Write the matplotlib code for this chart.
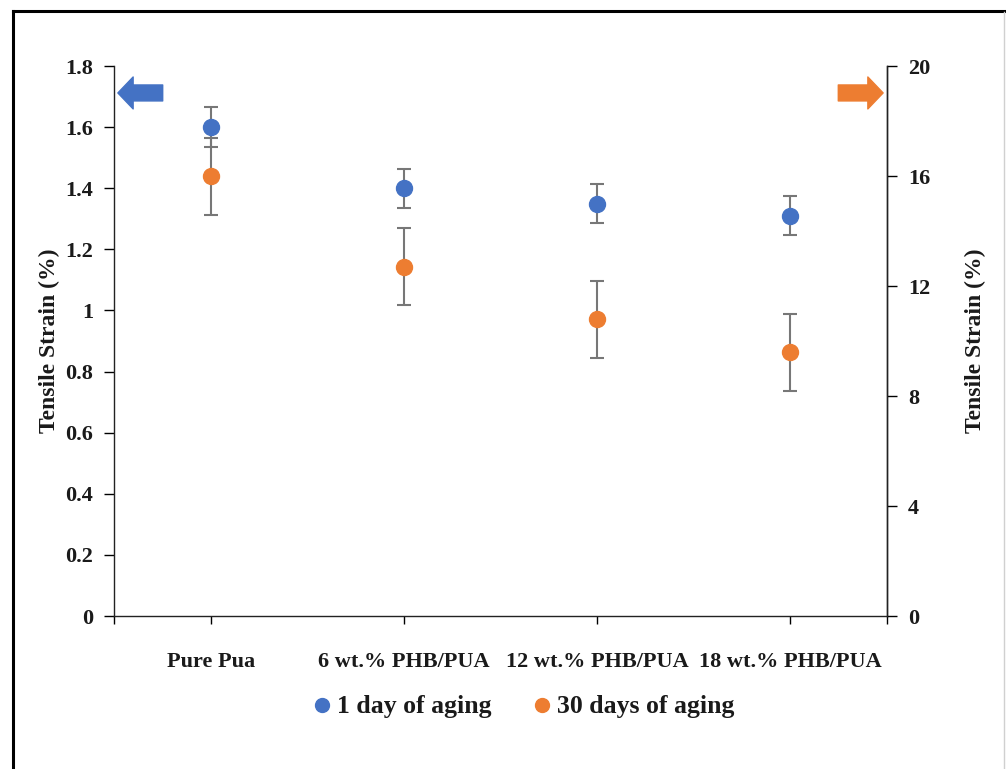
import matplotlib.pyplot as plt
from matplotlib.lines import Line2D

# --- Dados ---
categorias = ["Pure Pua", "6 wt.% PHB/PUA", "12 wt.% PHB/PUA", "18 wt.% PHB/PUA"]
strain_1dia = [1.60, 1.40, 1.35, 1.31]        # eixo esquerdo
erro_1dia = [0.065, 0.064, 0.064, 0.064]
strain_30dias = [16.0, 12.7, 10.8, 9.6]       # eixo direito
erro_30dias = [1.4, 1.4, 1.4, 1.4]

ticks_esq = [0, 0.2, 0.4, 0.6, 0.8, 1, 1.2, 1.4, 1.6, 1.8]
rotulos_esq = ["0", "0.2", "0.4", "0.6", "0.8", "1", "1.2", "1.4", "1.6", "1.8"]
ticks_dir = [0, 4, 8, 12, 16, 20]

AZUL = "#4472C4"
LARANJA = "#ED7D31"
TEXTO = "#1a1a1a"
ERRO = "#777777"

plt.rcParams['font.family'] = ['Liberation Serif', 'DejaVu Serif']
plt.rcParams['font.weight'] = 'bold'
plt.rcParams['axes.labelweight'] = 'bold'

fig = plt.figure(figsize=(10.06, 7.69), dpi=100)
W, H = 1006, 769
ax = fig.add_axes([114 / W, 1 - 616 / H, (887 - 114) / W, (616 - 66) / H])
ax2 = ax.twinx()

x = [i + 0.5 for i in range(len(categorias))]

# Série 1 (eixo esquerdo)
ax.errorbar(x, strain_1dia, yerr=erro_1dia, fmt='o', color=AZUL, ms=11.5,
            ecolor=ERRO, elinewidth=1.5, capsize=5, capthick=1.5, zorder=3)
# Série 2 (eixo direito)
ax2.errorbar(x, strain_30dias, yerr=erro_30dias, fmt='o', color=LARANJA, ms=11.5,
             ecolor=ERRO, elinewidth=1.5, capsize=5, capthick=1.5, zorder=3)

ax.set_xlim(0, 4)
ax.set_ylim(0, 1.8)
ax2.set_ylim(0, 20)

ax.set_yticks(ticks_esq)
ax.set_yticklabels(rotulos_esq)
ax2.set_yticks(ticks_dir)
ax.set_xticks(x)
ax.set_xticklabels(categorias)
ax.set_xticks([0, 4], minor=True)

for a in (ax, ax2):
    a.spines['top'].set_visible(False)
    for s in a.spines.values():
        s.set_linewidth(1.0)
        s.set_color("#222222")
ax2.spines['left'].set_visible(False)
ax2.spines['bottom'].set_visible(False)

ax.tick_params(axis='y', direction='out', length=7, width=1, labelsize=16,
               labelcolor=TEXTO, pad=8)
ax2.tick_params(axis='y', direction='out', length=7, width=1, labelsize=16,
                labelcolor=TEXTO, pad=8)
ax.tick_params(axis='x', which='both', direction='out', length=6, width=1,
               labelsize=16, labelcolor=TEXTO, pad=20)

ax.set_ylabel("Tensile Strain (%)", fontsize=17, color=TEXTO, labelpad=4)
ax2.set_ylabel("Tensile Strain (%)", fontsize=17, color=TEXTO, labelpad=25)

# Setas indicando o eixo de cada série
ax.annotate('', xy=(0.005, 0.951), xytext=(0.063, 0.951), xycoords='axes fraction',
            arrowprops=dict(arrowstyle='simple,head_length=11,head_width=23,tail_width=11.5',
                            mutation_scale=1, color=AZUL, shrinkA=0, shrinkB=0))
ax.annotate('', xy=(0.995, 0.951), xytext=(0.937, 0.951), xycoords='axes fraction',
            arrowprops=dict(arrowstyle='simple,head_length=11,head_width=23,tail_width=11.5',
                            mutation_scale=1, color=LARANJA, shrinkA=0, shrinkB=0))

# Legenda
handles = [Line2D([], [], marker='o', ls='', color=AZUL, ms=10),
           Line2D([], [], marker='o', ls='', color=LARANJA, ms=10)]
fig.legend(handles, ["1 day of aging", "30 days of aging"], loc='center',
           bbox_to_anchor=(523 / W, 1 - 707 / H), ncol=2, frameon=False,
           fontsize=18.5, handletextpad=0.15, columnspacing=1.6, handlelength=0.8,
           labelcolor=TEXTO)

# Moldura da figura (apenas esquerda e topo visíveis)
fig.add_artist(Line2D([13 / W, 13 / W], [0, 1 - 11 / H], color='black', lw=2.2,
                      transform=fig.transFigure))
fig.add_artist(Line2D([13 / W, 1], [1 - 11 / H, 1 - 11 / H], color='black', lw=2.2,
                      transform=fig.transFigure))
fig.add_artist(Line2D([1004 / W, 1004 / W], [0, 1 - 12 / H], color='#d0d0d0', lw=1,
                      transform=fig.transFigure))

fig.savefig("out.png", dpi=100)
